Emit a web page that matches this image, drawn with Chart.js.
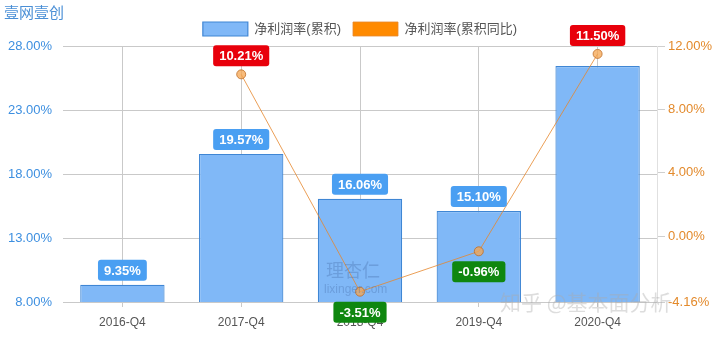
<!DOCTYPE html>
<html>
<head>
<meta charset="utf-8">
<script src="https://cdn.jsdelivr.net/npm/chart.js@4/dist/chart.umd.min.js"></script>
<style>
  html, body { margin: 0; padding: 0; background: #fff; }
  #wrap { width: 720px; height: 338px; }
</style>
</head>
<body>
<div id="wrap"><canvas id="canvas"></canvas></div>
<script>
// data
var categories = ['2016-Q4', '2017-Q4', '2018-Q4', '2019-Q4', '2020-Q4'];
var netMargin = [9.35, 19.57, 16.06, 15.10, 26.44];        // 净利润率(累积)
var netMarginYoY = [null, 10.21, -3.51, -0.96, 11.50];     // 净利润率(累积同比)
var leftTicks = [8, 13, 18, 23, 28];
var rightTicks = [-4.16, 0, 4, 8, 12];
var hiddenBarLabels = [4]; // 2020 bar label is not shown in the source

var FONT = 'Arial, "Liberation Sans", "Noto Sans CJK SC", sans-serif';

function fmt(v) { return v.toFixed(2) + '%'; }

function drawTag(ctx, text, x, y, where, color) {
  ctx.font = 'bold 13px ' + FONT;
  var w = ctx.measureText(text).width + 12;
  var h = 21;
  var top = where == 'above' ? y - h : y;
  ctx.fillStyle = color;
  ctx.beginPath();
  ctx.roundRect(x - w / 2, top, w, h, 3);
  ctx.fill();
  ctx.fillStyle = '#fff';
  ctx.textAlign = 'center';
  ctx.textBaseline = 'middle';
  ctx.fillText(text, x, top + h / 2 + 1);
}

var valueLabels = {
  id: 'valueLabels',
  afterDatasetsDraw: function (chart) {
    var ctx = chart.ctx;
    ctx.save();
    chart.getDatasetMeta(1).data.forEach(function (bar, i) {
      if (hiddenBarLabels.indexOf(i) >= 0) return;
      drawTag(ctx, fmt(netMargin[i]), bar.x, bar.y - 4, 'above', '#4a9ff2');
    });
    chart.getDatasetMeta(0).data.forEach(function (pt, i) {
      var v = netMarginYoY[i];
      if (v == null) return;
      if (v >= 0) drawTag(ctx, fmt(v), pt.x, pt.y - 8, 'above', '#e8000b');
      else drawTag(ctx, fmt(v), pt.x, pt.y + 10, 'below', '#0f870f');
    });
    ctx.restore();
  },
  afterDraw: function (chart) {
    var ctx = chart.ctx;
    ctx.save();
    // title
    ctx.fillStyle = '#4a8fd6';
    ctx.font = '15px "Noto Sans CJK SC", sans-serif';
    ctx.textBaseline = 'middle';
    ctx.textAlign = 'left';
    ctx.fillText('壹网壹创', 4, 12);
    // watermarks
    ctx.fillStyle = 'rgba(70,110,170,0.35)';
    ctx.font = '18px "Noto Sans CJK SC", sans-serif';
    ctx.fillText('理杏仁', 326, 270);
    ctx.font = '12px ' + FONT;
    ctx.fillText('lixinger.com', 324, 290);
    ctx.fillStyle = 'rgba(170,170,170,0.4)';
    ctx.font = '21px "Noto Sans CJK SC", sans-serif';
    ctx.fillText('知乎 @基本面分析', 500, 302);
    ctx.restore();
  }
};

var ctxL = document.getElementById('canvas').getContext('2d');
var chart = new Chart(ctxL, {
  data: {
    labels: categories,
    datasets: [{
      type: 'line',
      label: '净利润率(累积同比)',
      data: netMarginYoY,
      yAxisID: 'y1',
      order: 0,
      borderColor: 'rgba(230,135,45,0.8)',
      backgroundColor: '#ff8a00',
      borderWidth: 1,
      pointRadius: 4.5,
      pointBackgroundColor: 'rgba(245,165,80,0.75)',
      pointBorderColor: 'rgba(190,110,40,0.8)',
      pointBorderWidth: 1,
      tension: 0
    },
    {
      type: 'bar',
      label: '净利润率(累积)',
      data: netMargin,
      yAxisID: 'y',
      order: 1,
      backgroundColor: '#80b8f7',
      borderColor: '#3f86d4',
      borderWidth: 1.2,
      categoryPercentage: 1,
      barPercentage: 0.71
    }]
  },
  options: {
    responsive: true,
    maintainAspectRatio: false,
    animation: false,
    layout: { padding: { top: 10, bottom: 0, left: 0, right: 0 } },
    plugins: {
      legend: {
        reverse: true,
        labels: {
          boxWidth: 45,
          boxHeight: 14,
          padding: 12,
          color: '#555',
          font: { family: FONT, size: 13 }
        }
      },
      tooltip: { enabled: false }
    },
    scales: {
      x: {
        offset: true,
        grid: { offset: false, color: '#c9c9c9', tickLength: 5 },
        border: { display: false },
        ticks: { color: '#555', padding: 8, font: { family: FONT, size: 12 } },
        afterFit: function (s) { s.height = 36; }
      },
      y: {
        position: 'left',
        min: 8,
        max: 28,
        afterBuildTicks: function (s) { s.ticks = leftTicks.map(function (v) { return { value: v }; }); },
        grid: { color: '#c9c9c9', drawTicks: false },
        border: { display: false },
        ticks: {
          color: '#3d8fe0',
          padding: 11,
          font: { family: FONT, size: 13 },
          callback: function (v) { return fmt(v); }
        },
        afterFit: function (s) { s.width = 63; }
      },
      y1: {
        position: 'right',
        min: -4.16,
        max: 12,
        afterBuildTicks: function (s) { s.ticks = rightTicks.map(function (v) { return { value: v }; }); },
        grid: { display: true, drawOnChartArea: false, drawTicks: true, tickLength: 8, color: '#cfcfcf' },
        border: { display: true, color: '#e0e0e0' },
        ticks: {
          color: '#e38a2c',
          padding: 3,
          font: { family: FONT, size: 13 },
          callback: function (v) { return fmt(v); }
        },
        afterFit: function (s) { s.width = 63; }
      }
    }
  },
  plugins: [valueLabels]
});
</script>
</body>
</html>
